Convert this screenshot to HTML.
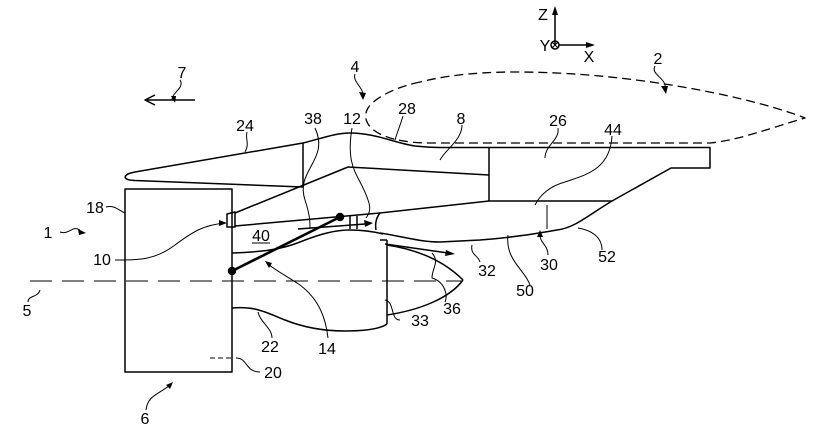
<!DOCTYPE html>
<html><head><style>
html,body{margin:0;padding:0;background:#fff;}
svg{display:block;}
text{font-family:"Liberation Sans",sans-serif;font-size:16px;fill:#000;text-anchor:middle;}
</style></head><body>
<svg width="840" height="446" viewBox="0 0 840 446" xmlns="http://www.w3.org/2000/svg">
<g fill="none" stroke="#000" stroke-width="1.5" stroke-linejoin="round">
<!-- axes -->
<line x1="555" y1="45" x2="555" y2="10"/>
<polygon points="555,6 552,15 558,15" fill="#000" stroke="none"/>
<line x1="559" y1="45" x2="590" y2="45"/>
<polygon points="595,45 586,42 586,48" fill="#000" stroke="none"/>
<circle cx="555" cy="45" r="4"/>
<line x1="552" y1="42" x2="558" y2="48" stroke-width="1"/>
<line x1="558" y1="42" x2="552" y2="48" stroke-width="1"/>

<!-- wing dashed -->
<path d="M420,82 C400,86 376,96 368,108 C362,118 368,128 380,134 C392,140 410,143 430,143 L710,143 C740,140 770,128 805,118 C760,100 640,72 515,72 C470,72 440,77 420,82" stroke-dasharray="9,5" stroke-width="1.3"/>

<!-- direction arrow 7 -->
<line x1="147" y1="100" x2="195" y2="100"/>
<path d="M155,95 L145,100 L155,105"/>

<!-- pylon upper -->
<path d="M125,177 C126,174 130,173 135,172 L303,143 C320,139 335,133 350,133 C375,133 395,143 415,146 C425,147 430,147.5 440,147.5 L710,147.5 L710,168 L671,168 L612,201 C590,214 575,228 557,230 C545,232 520,237 480,240 L440,242 C420,242 400,236 380,233"/>
<path d="M125,177 C126,180 130,180 135,180.5 L303,187"/>
<line x1="303" y1="143" x2="303" y2="187"/>
<line x1="235" y1="213" x2="348" y2="167"/>
<line x1="348" y1="167" x2="489" y2="175"/>
<line x1="489" y1="147.5" x2="489" y2="201"/>
<line x1="235" y1="226" x2="380" y2="213"/>
<line x1="380" y1="213" x2="489" y2="201"/>
<line x1="489" y1="201" x2="612" y2="201"/>
<line x1="547" y1="205" x2="547" y2="229" stroke-width="1"/>
<path d="M380,213 C376,218 375,224 376,230"/>
<!-- nozzle 10 -->
<path d="M227,214 L235,212 L235,227 L227,227 Z"/>

<!-- box 18 -->
<rect x="125" y="189" width="107" height="183"/>

<!-- core -->
<path d="M232,253 C260,252 280,250 300,242 C320,234 335,230 350,230 C365,230 375,232 383,234"/>
<line x1="380" y1="240" x2="387" y2="240"/>
<line x1="387" y1="240" x2="387" y2="324"/>
<path d="M232,308 C255,306 265,312 285,320 C305,328 325,331 345,331 C365,331 380,329 387,324"/>
<path d="M387,245 C420,250 445,262 463,280"/>
<path d="M387,315 C420,310 450,298 463,280"/>
<line x1="385" y1="244" x2="448" y2="253"/>
<polygon points="455,254 446,250 445,256" fill="#000" stroke="none"/>
<!-- ticks -->
<line x1="350" y1="216" x2="350" y2="229"/>
<line x1="357" y1="216" x2="357" y2="229"/>
<!-- arrow 38 -->
<line x1="298" y1="229" x2="365" y2="224"/>
<polygon points="373,223 364,220 365,227" fill="#000" stroke="none"/>

<!-- thick line 14 -->
<line x1="232" y1="271" x2="340" y2="217" stroke-width="2.6"/>
<circle cx="232" cy="271" r="3.5" fill="#000"/>
<circle cx="340" cy="217" r="3.5" fill="#000"/>

<!-- axis dashed -->
<line x1="30" y1="281" x2="463" y2="281" stroke-dasharray="22,10" stroke-width="1"/>
<line x1="210" y1="358" x2="232" y2="358" stroke-dasharray="5,3" stroke-width="1"/>

<!-- leaders -->
<g stroke-width="1">
<path d="M180,80 C185,88 172,92 172,100"/>
<path d="M355,74 C352,82 365,88 363,98"/>
<path d="M655,66 C650,75 668,78 665,90"/>
<path d="M247,132 C245,140 250,143 245,152"/>
<path d="M315,128 C330,160 295,170 305,200 C310,215 310,222 310,228"/>
<path d="M352,128 C345,170 360,175 368,200 C372,210 368,215 366,218"/>
<path d="M403,116 C400,126 398,130 395,140"/>
<path d="M462,125 C462,140 445,150 440,160"/>
<path d="M558,128 C560,140 545,145 545,158"/>
<path d="M612,136 C610,170 585,175 565,182 C550,186 540,195 535,205"/>
<path d="M106,207 C115,205 118,210 125,213"/>
<path d="M60,232 C70,235 72,225 80,230"/>
<path d="M115,260 C140,260 155,260 175,245 C195,230 205,225 225,223"/>
<path d="M28,302 C28,295 38,298 40,290"/>
<path d="M328,338 C326,320 320,300 300,285 C285,275 275,270 268,264"/>
<path d="M272,338 C272,328 260,322 258,312"/>
<path d="M400,320 C390,320 395,302 385,300"/>
<path d="M445,302 C448,295 445,282 432,278 C432,268 440,262 432,253"/>
<path d="M480,262 C478,255 470,255 472,245"/>
<path d="M530,285 C525,270 505,260 508,235"/>
<path d="M548,255 C548,245 540,243 540,235"/>
<path d="M602,250 C602,236 590,230 578,228"/>
<path d="M260,372 C245,372 248,358 236,358"/>
<path d="M146,410 C148,395 158,395 170,385"/>
</g>
<!-- small arrowheads on leaders -->
<polygon points="175,103 171,96 176,96" fill="#000" stroke="none"/>
<polygon points="363,100 359,92 366,93" fill="#000" stroke="none"/>
<polygon points="666,94 661,86 668,86" fill="#000" stroke="none"/>
<polygon points="86,233 78,229 79,235" fill="#000" stroke="none"/>
<polygon points="227,223 219,220 219,226" fill="#000" stroke="none"/>
<polygon points="265,261 269,268 272,263" fill="#000" stroke="none"/>
<polygon points="540,230 537,237 543,237" fill="#000" stroke="none"/>
<polygon points="173,382 166,385 170,389" fill="#000" stroke="none"/>
</g>
<line x1="252" y1="243" x2="270" y2="243" stroke="#000" stroke-width="1"/>

<text x="543" y="20">Z</text>
<text x="545" y="51">Y</text>
<text x="589" y="62">X</text>
<text x="182" y="78">7</text>
<text x="355" y="72">4</text>
<text x="658" y="64">2</text>
<text x="245" y="131">24</text>
<text x="313" y="124">38</text>
<text x="352" y="124">12</text>
<text x="407" y="114">28</text>
<text x="461" y="124">8</text>
<text x="558" y="126">26</text>
<text x="613" y="135">44</text>
<text x="95" y="213">18</text>
<text x="48" y="238">1</text>
<text x="102" y="265">10</text>
<text x="261" y="241">40</text>
<text x="27" y="316">5</text>
<text x="327" y="354">14</text>
<text x="270" y="352">22</text>
<text x="420" y="326">33</text>
<text x="452" y="314">36</text>
<text x="487" y="276">32</text>
<text x="525" y="296">50</text>
<text x="549" y="270">30</text>
<text x="607" y="262">52</text>
<text x="273" y="378">20</text>
<text x="145" y="424">6</text>
</svg>
</body></html>
